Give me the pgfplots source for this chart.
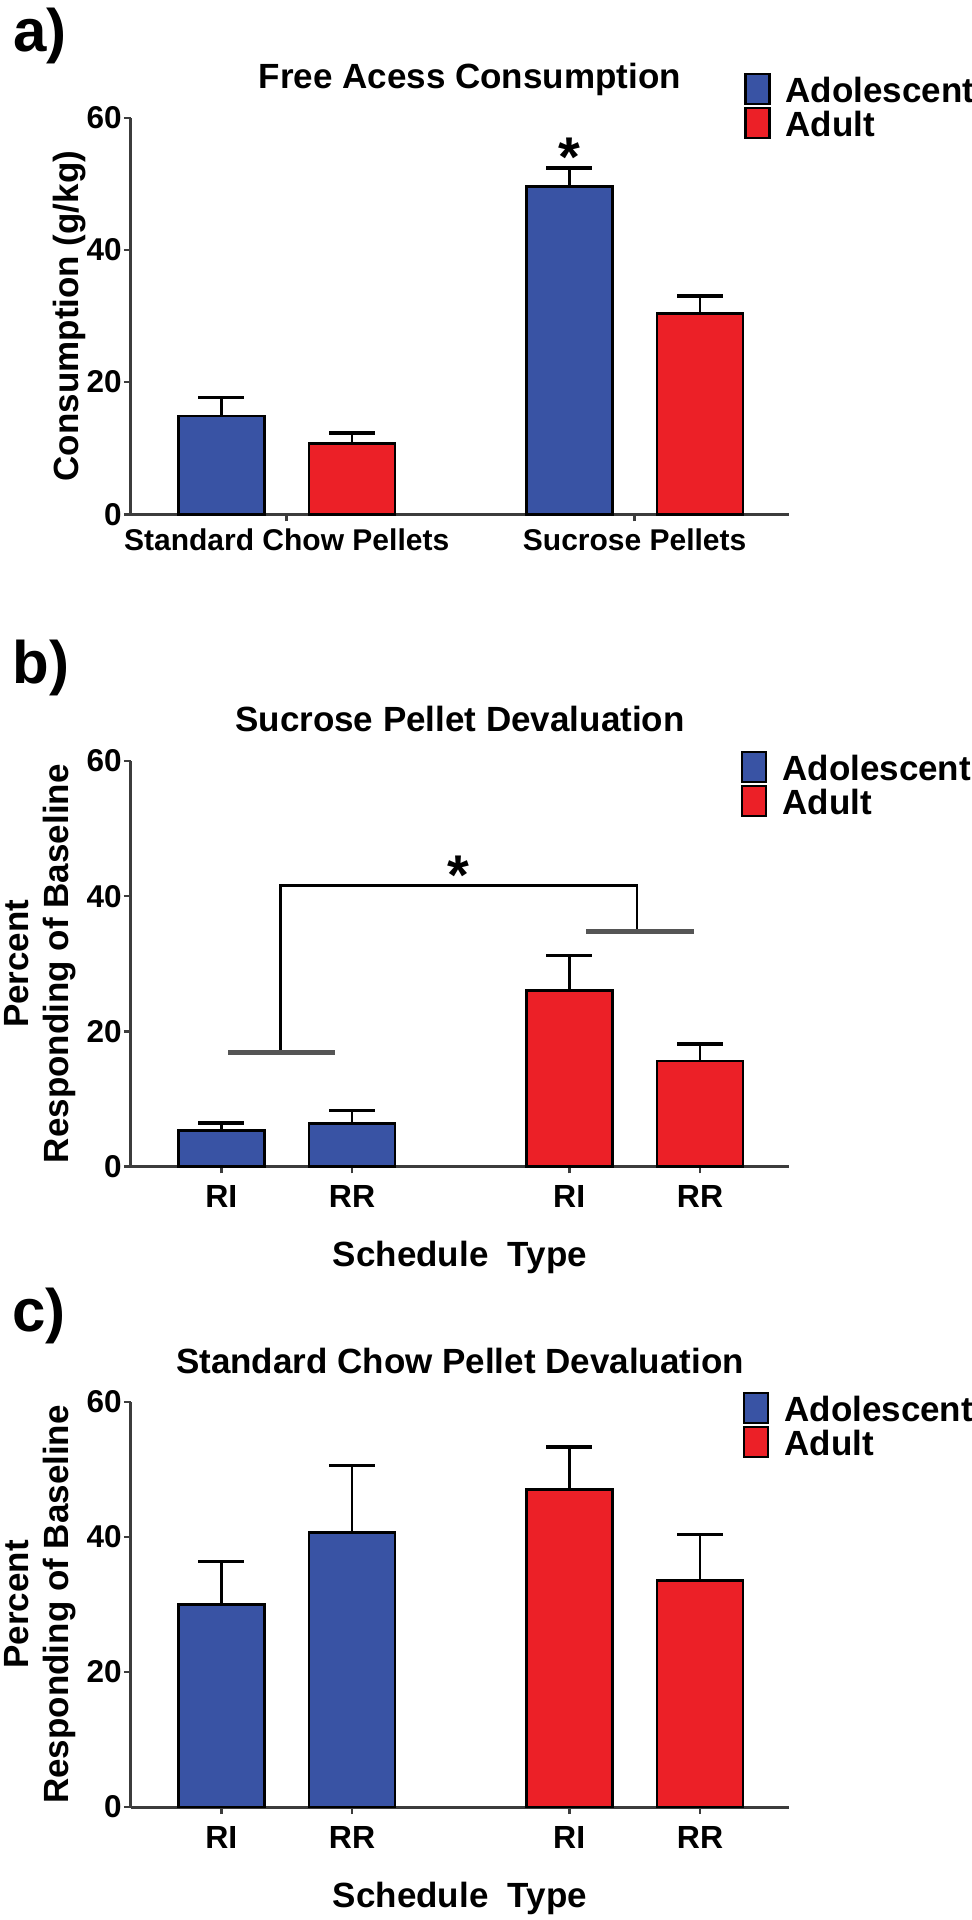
\documentclass[border=0pt]{standalone}
\usepackage{fontspec}
\setmainfont{Liberation Sans}
\usepackage{pgfplots}
\pgfplotsset{compat=1.18}
\definecolor{adoblue}{RGB}{57,83,164}
\definecolor{adured}{RGB}{236,32,39}
\definecolor{axgray}{RGB}{60,60,60}
\definecolor{brgray}{RGB}{85,85,85}

\pgfplotsset{
  panel/.style={
    scale only axis, width=329pt,
    xmin=-0.69, xmax=4.34, ymin=0, ymax=60,
    axis x line*=bottom, axis y line*=left,
    axis line style={line width=1.5pt, axgray},
    tick align=outside, major tick length=3.5pt,
    tick style={line width=1.3pt, axgray},
    ytick={0,20,40,60}, minor tick num=0,
    /pgf/number format/assume math mode=true,
    yticklabel style={font=\bfseries\fontsize{15.75}{16}\selectfont, inner sep=0pt, xshift=-1pt},
    xticklabel style={font=\bfseries\fontsize{16}{16}\selectfont, inner sep=0pt, text height=11.5pt, text depth=0pt, yshift=-5.5pt},
    title style={font=\bfseries\fontsize{17.5}{20}\selectfont, at={(axis description cs:0.5,1)}, anchor=base, yshift=8.5pt},
    ylabel style={font=\bfseries\fontsize{17.5}{20}\selectfont, align=center, anchor=center},
    xlabel style={font=\bfseries\fontsize{17.5}{20}\selectfont, at={(axis description cs:0.5,0)}, anchor=base, yshift=-50pt},
    legend style={draw=none, fill=none, inner sep=0pt, outer sep=0pt, anchor=north west,
       font=\bfseries\fontsize{17.5}{17.5}\selectfont,
       nodes={inner sep=0pt, text height=13pt, text depth=4pt},
       cells={anchor=base west},
       row sep=-1.6pt,
       /tikz/every odd column/.append style={column sep=7.5pt}},
    clip=false,
  },
  legimg/.style={legend image code/.code={\draw[##1, line width=1.2pt] (0pt,-1pt) rectangle (12pt,14pt);}},
  barstyle/.style={ybar, bar width=0.657, bar shift=0pt, fill=#1, draw=black, line width=1.3pt, legimg,
     error bars/.cd, y dir=plus, y explicit,
     error bar style={line width=1.3pt, black},
     error mark=|, error mark options={line width=1.8pt, black, mark size=11.5pt}},
}

\begin{document}
\begin{tikzpicture}
\useasboundingbox (0,0) rectangle (486pt,960pt);

% ---------------- a) ----------------
\begin{axis}[panel, height=198.2pt, at={(65.5pt,702.85pt)}, anchor=south west,
  title={Free Acess Consumption}, title style={at={(axis description cs:0.515,1)}},
  ylabel={Consumption (g/kg)}, ylabel style={at={(axis description cs:-0.094,0.5)}},
  xtick={0.5,3.16}, xticklabels={Standard Chow Pellets, Sucrose Pellets},
  xticklabel style={font=\bfseries\fontsize{15}{15}\selectfont, text height=10.7pt, yshift=2pt},
  legend style={at={(axis description cs:0.932,1.113)}},
]
\addplot[barstyle=adoblue] coordinates {(0,14.9) +- (0,2.8) (2.66,49.6) +- (0,2.8)};
\addplot[barstyle=adured] coordinates {(1,10.7) +- (0,1.6) (3.66,30.4) +- (0,2.6)};
\legend{Adolescent,Adult}
\node[font=\bfseries\fontsize{28}{28}\selectfont, anchor=base, inner sep=0pt] at (axis cs:2.66,51.2) {*};
\end{axis}

% ---------------- b) ----------------
\begin{axis}[panel, height=202.75pt, at={(65.5pt,376.75pt)}, anchor=south west,
  title={Sucrose Pellet Devaluation},
  ylabel={Percent\\Responding of Baseline}, ylabel style={at={(axis description cs:-0.138,0.5)}},
  xlabel={Schedule\ \ Type},
  xtick={0,1,2.66,3.66}, xticklabels={RI,RR,RI,RR},
  legend style={at={(axis description cs:0.927,1.0247)}},
]
\addplot[barstyle=adoblue] coordinates {(0,5.3) +- (0,1.1) (1,6.4) +- (0,1.9)};
\addplot[barstyle=adured] coordinates {(2.66,26.0) +- (0,5.2) (3.66,15.6) +- (0,2.5)};
\legend{Adolescent,Adult}
\addplot[black, line width=1.2pt, forget plot] coordinates {(0.453,16.9) (0.453,41.6) (3.18,41.6) (3.18,34.8)};
\addplot[brgray, line width=2.5pt, forget plot] coordinates {(0.054,16.9) (0.87,16.9)};
\addplot[brgray, line width=2.5pt, forget plot] coordinates {(2.79,34.8) (3.61,34.8)};
\node[font=\bfseries\fontsize{28}{28}\selectfont, anchor=base, inner sep=0pt] at (axis cs:1.81,40.2) {*};
\end{axis}

% ---------------- c) ----------------
\begin{axis}[panel, height=202.5pt, at={(65.5pt,56.5pt)}, anchor=south west,
  title={Standard Chow Pellet Devaluation},
  ylabel={Percent\\Responding of Baseline}, ylabel style={at={(axis description cs:-0.138,0.5)}},
  xlabel={Schedule\ \ Type},
  xtick={0,1,2.66,3.66}, xticklabels={RI,RR,RI,RR},
  legend style={at={(axis description cs:0.93,1.0247)}},
]
\addplot[barstyle=adoblue] coordinates {(0,30.0) +- (0,6.4) (1,40.7) +- (0,9.9)};
\addplot[barstyle=adured] coordinates {(2.66,47.0) +- (0,6.3) (3.66,33.6) +- (0,6.8)};
\legend{Adolescent,Adult}
\end{axis}

\node[anchor=base west, inner sep=0pt, font=\bfseries\fontsize{30}{30}\selectfont] at (6.5pt,934pt) {a)};
\node[anchor=base west, inner sep=0pt, font=\bfseries\fontsize{30}{30}\selectfont] at (6pt,618pt) {b)};
\node[anchor=base west, inner sep=0pt, font=\bfseries\fontsize{30}{30}\selectfont] at (6pt,294pt) {c)};
\end{tikzpicture}
\end{document}
